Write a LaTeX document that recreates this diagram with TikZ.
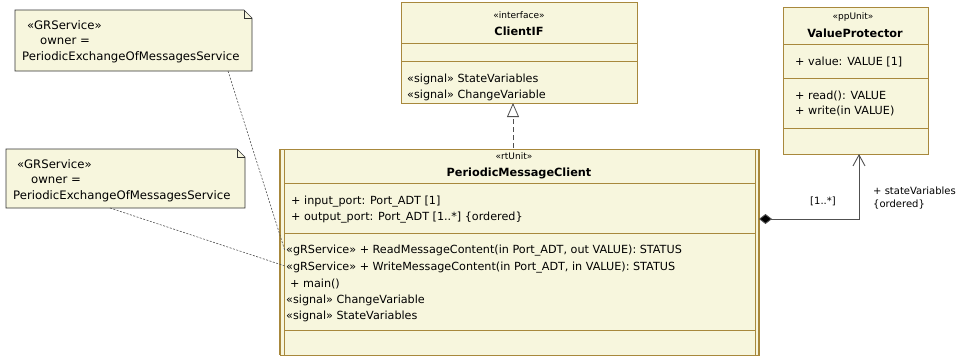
\documentclass[tikz,border=0pt]{standalone}
\usepackage{fontspec}
\setmainfont{DejaVu Sans}
\usetikzlibrary{arrows.meta}
\definecolor{clsfill}{RGB}{247,246,221}
\definecolor{clsline}{RGB}{168,136,60}
\definecolor{notefill}{RGB}{247,246,221}
\definecolor{conn}{RGB}{80,80,80}
\tikzset{
  txt/.style={anchor=west,inner sep=0pt,font=\fontsize{11.2}{13}\selectfont},
  notetxt/.style={anchor=west,inner sep=0pt,font=\fontsize{11.7}{13}\selectfont},
  stereo/.style={anchor=center,inner sep=0pt,font=\fontsize{9}{10}\selectfont},
  bold/.style={anchor=center,inner sep=0pt,font=\fontsize{11.3}{13}\selectfont\bfseries},
  small/.style={anchor=west,inner sep=0pt,font=\fontsize{10}{11}\selectfont},
  clsbox/.style={draw=clsline,fill=clsfill,line width=0.9pt},
  clsrule/.style={draw=clsline,line width=0.9pt},
  notebox/.style={draw=black!80,fill=notefill,line width=0.7pt},
  noteline/.style={draw=conn,dashed,dash pattern=on 2pt off 1.5pt,line width=0.6pt},
}
\begin{document}
\begin{tikzpicture}[x=1pt,y=-1pt]
\useasboundingbox (0,0) rectangle (962,356);
% ---------- Note 1 ----------
\path[notebox] (15,10) -- (244,10) -- (252,18) -- (252,71) -- (15,71) -- cycle;
\draw[black!80,line width=0.7pt] (244,10) -- (244,18) -- (252,18);
\node[notetxt] (n1a) at (27,25) {«GRService»};
\node[notetxt] (n1b) at (40,41) {owner =};
\node[notetxt] (n1c) at (22,57) {PeriodicExchangeOfMessagesService};
\coordinate (note1) at (228,71);
% ---------- Note 2 ----------
\path[notebox] (6,149) -- (237,149) -- (245,157) -- (245,208) -- (6,208) -- cycle;
\draw[black!80,line width=0.7pt] (237,149) -- (237,157) -- (245,157);
\node[notetxt] (n2a) at (17,164) {«GRService»};
\node[notetxt] (n2b) at (31,180) {owner =};
\node[notetxt] (n2c) at (13,196) {PeriodicExchangeOfMessagesService};
\coordinate (note2) at (110,208);
% ---------- ClientIF ----------
\path[clsbox] (401,2) rectangle (637,103);
\draw[clsrule] (401,43) -- (637,43);
\draw[clsrule] (401,61) -- (637,61);
\node[stereo] (cifst) at (519,15) {«interface»};
\node[bold] (cifname) at (519,31) {ClientIF};
\node[txt] (cif1) at (407,79) {«signal» StateVariables};
\node[txt] (cif2) at (407,95) {«signal» ChangeVariable};
\coordinate (cifbot) at (513,103);
% ---------- ValueProtector ----------
\path[clsbox] (783,7) rectangle (928,154);
\draw[clsrule] (783,44) -- (928,44);
\draw[clsrule] (783,78) -- (928,78);
\draw[clsrule] (783,128) -- (928,128);
\node[stereo] (vpst) at (853,17) {«ppUnit»};
\node[bold] (vpname) at (855,33) {ValueProtector};
\node[txt] (vp1) at (795,62) {+ value: VALUE [1]};
\node[txt] (vp2) at (795,96) {+ read(): VALUE};
\node[txt] (vp3) at (795,111) {+ write(in VALUE)};
\coordinate (vpbot) at (859,154);
% ---------- PeriodicMessageClient ----------
\path[clsbox] (280,149) rectangle (759,355);
\draw[clsline,line width=1.4pt] (280,149) -- (280,355);
\draw[clsline,line width=0.9pt] (284,149) -- (284,355);
\draw[clsline,line width=0.9pt] (755,149) -- (755,355);
\draw[clsline,line width=1.4pt] (759,149) -- (759,355);
\draw[clsrule] (284,183) -- (755,183);
\draw[clsrule] (284,233) -- (755,233);
\draw[clsrule] (284,330) -- (755,330);
\node[stereo] (pmcst) at (514,156) {«rtUnit»};
\node[bold] (pmcname) at (519,173) {PeriodicMessageClient};
\node[txt] (a1) at (291,202) {+ input\_port: Port\_ADT [1]};
\node[txt] (a2) at (291,218) {+ output\_port: Port\_ADT [1..*] \{ordered\}};
\node[txt] (o1) at (286,251) {«gRService» + ReadMessageContent(in Port\_ADT, out VALUE): STATUS};
\node[txt] (o2) at (286,268) {«gRService» + WriteMessageContent(in Port\_ADT, in VALUE): STATUS};
\node[txt] (o3) at (290,284) {+ main()};
\node[txt] (o4) at (286,300) {«signal» ChangeVariable};
\node[txt] (o5) at (286,316) {«signal» StateVariables};
\coordinate (pmctop) at (513,148);
\coordinate (pmcright) at (759,219);
\coordinate (corner) at (859,219);
\coordinate (o1end) at (285,251);
\coordinate (o2end) at (285,266);
% ---------- connectors ----------
\draw[noteline] (note1) -- (o1end);
\draw[noteline] (note2) -- (o2end);
\draw[conn,line width=0.8pt,dashed,dash pattern=on 5pt off 3pt,-{Triangle[open,length=14pt,width=12pt,fill=white,line width=0.8pt]}] (pmctop) -- (cifbot);
\draw[conn,line width=0.9pt,{Diamond[length=13pt,width=10pt,fill=black]}-{Straight Barb[length=11pt,width=12pt,line width=0.9pt]}] (pmcright) -- (corner) -- (vpbot);
\node[small,anchor=center] (mult) at (823,201) {[1..*]};
\node[small] (role1) at (873,191) {+ stateVariables};
\node[small] (role2) at (873,205) {\{ordered\}};
\end{tikzpicture}
\end{document}
